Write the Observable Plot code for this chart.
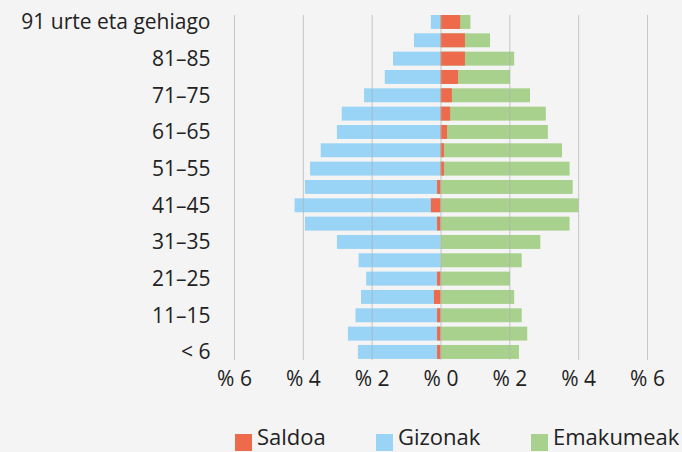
<!DOCTYPE html>
<html><head><meta charset="utf-8">
<script src="https://cdn.jsdelivr.net/npm/d3@7"></script>
<script src="https://cdn.jsdelivr.net/npm/@observablehq/plot@0.6"></script>
<style>
html,body{margin:0;padding:0;background:#f4f4f4;}
body{width:682px;height:452px;overflow:hidden;font-family:"Open Sans",sans-serif;color:#222;}
#legend{position:relative;height:52px;}
.item{position:absolute;top:25px;display:flex;align-items:flex-start;font-size:22px;line-height:22px;white-space:nowrap;}
.sw{width:17px;height:17px;margin-top:9px;margin-right:5px;}
</style></head><body>
<div id="chart"></div>
<div id="legend"></div>
<script>
// bottom-to-top age groups
const categories = ["< 6","6–10","11–15","16–20","21–25","26–30","31–35","36–40","41–45","46–50","51–55","56–60","61–65","66–70","71–75","76–80","81–85","86–90","91 urte eta gehiago"];
const gizonak   = [2.40,2.69,2.47,2.31,2.16,2.38,3.01,3.94,4.24,3.94,3.79,3.48,3.01,2.87,2.22,1.62,1.38,0.77,0.28];
const emakumeak = [2.28,2.52,2.36,2.14,2.02,2.36,2.90,3.75,4.01,3.84,3.75,3.53,3.12,3.06,2.60,2.02,2.14,1.44,0.87];
const saldoa    = [-0.10,-0.10,-0.10,-0.19,-0.10,0,0,-0.10,-0.28,-0.10,0.10,0.10,0.19,0.28,0.33,0.51,0.71,0.71,0.57];
const yLabels = ["< 6","11–15","21–25","31–35","41–45","51–55","61–65","71–75","81–85","91 urte eta gehiago"];
const xTicks = [-6,-4,-2,0,2,4,6];
const seriesNames = ["Saldoa","Gizonak","Emakumeak"];
const seriesColors = ["#EE6A4C","#99D3F5","#A8D18D"];

const rows = categories.map((c,i)=>({cat:c, men:-gizonak[i], women:emakumeak[i], bal:saldoa[i]}));

const chart = Plot.plot({
  width:682, height:400,
  marginLeft:234, marginRight:35, marginTop:10.6, marginBottom:36.7,
  style:{background:"transparent", fontFamily:"Open Sans", fontSize:"21px", color:"#222"},
  x:{domain:[-6,6], axis:null, label:null},
  y:{type:"band", domain:categories.slice().reverse(), padding:0.24, round:false, axis:null, label:null},
  marks:[
    Plot.barX(rows,{y:"cat", x:"men", fill:seriesColors[1]}),
    Plot.barX(rows,{y:"cat", x:"women", fill:seriesColors[2]}),
    Plot.barX(rows,{y:"cat", x:"bal", fill:seriesColors[0]}),
    Plot.gridX(xTicks,{stroke:"#b0b0b0", strokeOpacity:0.7, insetTop:4.4, insetBottom:3.3}),
    Plot.axisY({ticks:yLabels, tickSize:0, tickPadding:24, fontSize:21, label:null}),
    Plot.axisX(xTicks,{tickSize:0, tickPadding:7.5, fontSize:21, label:null, tickFormat:d=>"% "+Math.abs(d)})
  ]
});
document.getElementById("chart").appendChild(chart);

const legendLeft = [235,376,531];
const legend = document.getElementById("legend");
seriesNames.forEach((n,i)=>{
  const it = document.createElement("div");
  it.className="item"; it.style.left=legendLeft[i]+"px";
  const sw=document.createElement("div"); sw.className="sw"; sw.style.background=seriesColors[i];
  const tx=document.createElement("span"); tx.textContent=n;
  it.appendChild(sw); it.appendChild(tx); legend.appendChild(it);
});
</script>
</body></html>
